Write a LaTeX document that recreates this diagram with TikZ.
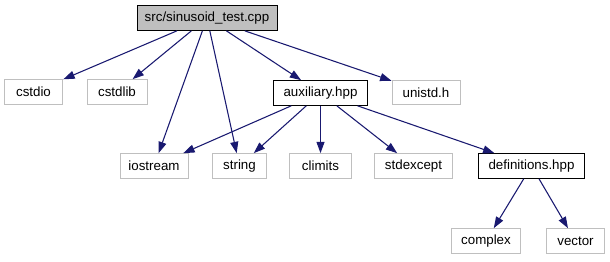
\documentclass[tikz,border=0pt]{standalone}
\usepackage{fontspec}
\setmainfont{Liberation Sans}
\usetikzlibrary{arrows.meta}

\definecolor{edgeblue}{HTML}{191970}
\definecolor{sysgray}{HTML}{BFBFBF}

\begin{document}
\begin{tikzpicture}[x=0.75pt,y=-0.75pt,
  file/.style={draw,line width=0.75pt,minimum height=18.5pt,inner sep=0pt,font=\fontsize{10}{12}\selectfont},
  sysfile/.style={file,draw=sysgray},
  projfile/.style={file,draw=black},
  dep/.style={edgeblue,line width=0.8pt,-{Triangle[length=8.5pt,width=6pt]}}]

  \useasboundingbox (0,0) rectangle (610,261);

  % root file
  \node[projfile,fill=sysgray,minimum width=105pt] (main) at (207,18) {src/sinusoid\_test.cpp};

  % first level
  \node[sysfile,minimum width=44pt]   (cstdio)    at (33.5,92)  {cstdio};
  \node[sysfile,minimum width=45pt]   (cstdlib)   at (117,92)   {cstdlib};
  \node[projfile,minimum width=71pt]  (auxiliary) at (320.5,93) {auxiliary.hpp};
  \node[sysfile,minimum width=51pt]   (unistd)    at (426,92.5) {unistd.h};

  % second level
  \node[sysfile,minimum width=51pt]   (iostream)    at (154,166)   {iostream};
  \node[sysfile,minimum width=41pt]   (string)      at (239.5,166) {string};
  \node[sysfile,minimum width=46pt]   (climits)     at (320.5,166) {climits};
  \node[sysfile,minimum width=59pt]   (stdexcept)   at (413.5,166) {stdexcept};
  \node[projfile,minimum width=80pt]  (definitions) at (531.5,166) {definitions.hpp};

  % third level
  \node[sysfile,minimum width=52pt] (complex) at (486,241)   {complex};
  \node[sysfile,minimum width=44pt] (vector)  at (575.5,241) {vector};

  % includes
  \foreach \t in {cstdio,cstdlib,iostream,string,auxiliary,unistd}
    \draw[dep] (main) -- (\t);
  \foreach \t in {iostream,string,climits,stdexcept,definitions}
    \draw[dep] (auxiliary) -- (\t);
  \foreach \t in {complex,vector}
    \draw[dep] (definitions) -- (\t);
\end{tikzpicture}
\end{document}
